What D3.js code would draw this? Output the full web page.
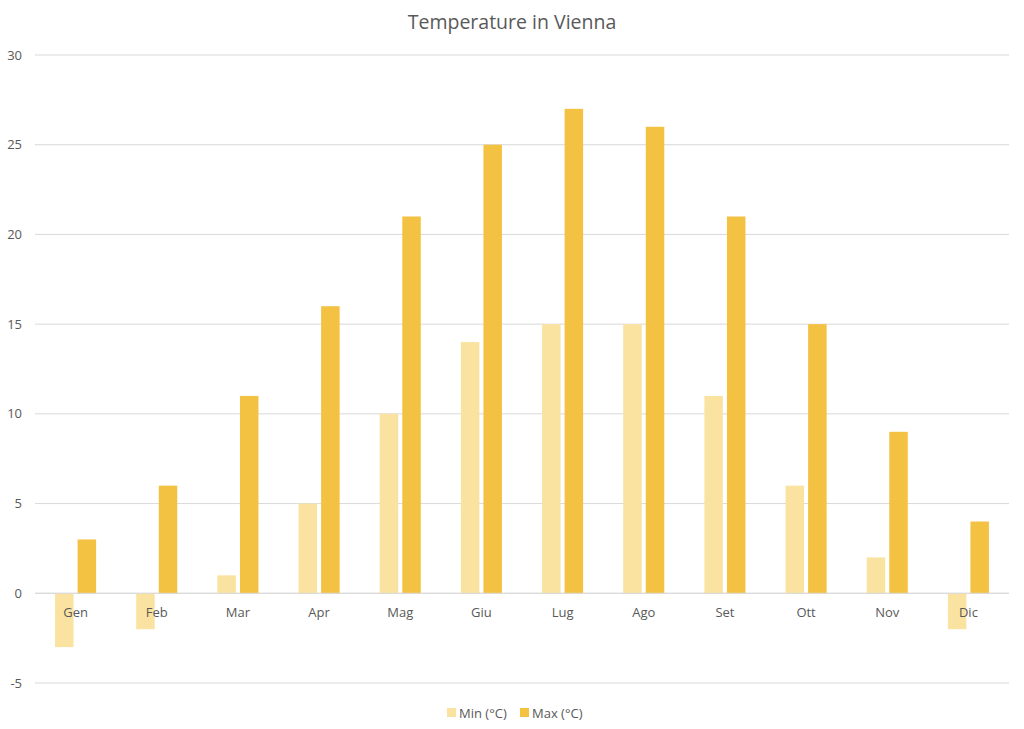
<!DOCTYPE html>
<html>
<head>
<meta charset="utf-8">
<script src="https://cdn.jsdelivr.net/npm/d3@7.9.0/dist/d3.min.js"></script>
<style>
  body { margin: 0; background: #fff; }
  svg { display: block; font-family: "Open Sans", "Noto Sans", sans-serif; }
</style>
</head>
<body>
<svg id="chart" width="1024" height="729"></svg>
<script>
// data
const months = ['Gen', 'Feb', 'Mar', 'Apr', 'Mag', 'Giu', 'Lug', 'Ago', 'Set', 'Ott', 'Nov', 'Dic'];
const minTemps = [-3, -2, 1, 5, 10, 14, 15, 15, 11, 6, 2, -2];
const maxTemps = [3, 6, 11, 16, 21, 25, 27, 26, 21, 15, 9, 4];
const seriesNames = ['Min (°C)', 'Max (°C)'];
const yTicks = [-5, 0, 5, 10, 15, 20, 25, 30];

const colors = ['#FAE3A0', '#F4C243'];
const textColor = '#595959';

const svg = d3.select('#chart');
const W = +svg.attr('width');

const plot = { left: 35, right: 1009, top: 55, bottom: 683 };

const rows = months.map((m, i) => ({ month: m, values: [minTemps[i], maxTemps[i]] }));

const y = d3.scaleLinear().domain([-5, 30]).range([plot.bottom, plot.top]);

const x0 = d3.scaleBand()
  .domain(months)
  .range([plot.left, plot.right])
  .paddingInner(0.494)
  .paddingOuter(0.247);

const x1 = d3.scaleBand()
  .domain(seriesNames)
  .range([0, x0.bandwidth()])
  .paddingInner(0.18);

// gridlines
svg.append('g')
  .selectAll('line')
  .data(yTicks)
  .join('line')
  .attr('x1', plot.left)
  .attr('x2', plot.right)
  .attr('y1', d => y(d))
  .attr('y2', d => y(d))
  .attr('stroke', '#d9d9d9')
  .attr('stroke-width', 1);

// y tick labels
svg.append('g')
  .selectAll('text')
  .data(yTicks)
  .join('text')
  .attr('x', 22)
  .attr('y', d => y(d))
  .attr('dy', '0.35em')
  .attr('text-anchor', 'end')
  .attr('font-size', 13)
  .attr('fill', textColor)
  .text(d => d);

// bars
const groups = svg.append('g')
  .selectAll('g')
  .data(rows)
  .join('g')
  .attr('transform', d => `translate(${x0(d.month)},0)`);

groups.selectAll('rect')
  .data(d => d.values.map((v, k) => ({ key: seriesNames[k], value: v, k })))
  .join('rect')
  .attr('x', d => x1(d.key))
  .attr('width', x1.bandwidth())
  .attr('y', d => y(Math.max(0, d.value)))
  .attr('height', d => Math.abs(y(d.value) - y(0)))
  .attr('fill', d => colors[d.k]);

// zero line over the bars
svg.append('line')
  .attr('x1', plot.left)
  .attr('x2', plot.right)
  .attr('y1', y(0))
  .attr('y2', y(0))
  .attr('stroke', '#d9d9d9');

// category labels
svg.append('g')
  .selectAll('text')
  .data(months)
  .join('text')
  .attr('x', d => x0(d) + x0.bandwidth() / 2)
  .attr('y', y(0) + 19)
  .attr('dy', '0.35em')
  .attr('text-anchor', 'middle')
  .attr('font-size', 13)
  .attr('fill', textColor)
  .text(d => d);

// title
svg.append('text')
  .attr('x', W / 2)
  .attr('y', 22)
  .attr('dy', '0.35em')
  .attr('text-anchor', 'middle')
  .attr('font-size', 19.5)
  .attr('fill', textColor)
  .text('Temperature in Vienna');

// legend
const legend = svg.append('g').attr('transform', 'translate(447,713)');
const legendX = [0, 73];
seriesNames.forEach((name, k) => {
  const g = legend.append('g').attr('transform', `translate(${legendX[k]},0)`);
  g.append('rect')
    .attr('x', 0).attr('y', -5)
    .attr('width', 9).attr('height', 9)
    .attr('fill', colors[k]);
  g.append('text')
    .attr('x', 12)
    .attr('y', 0)
    .attr('dy', '0.35em')
    .attr('font-size', 13)
    .attr('fill', textColor)
    .text(name);
});
</script>
</body>
</html>
